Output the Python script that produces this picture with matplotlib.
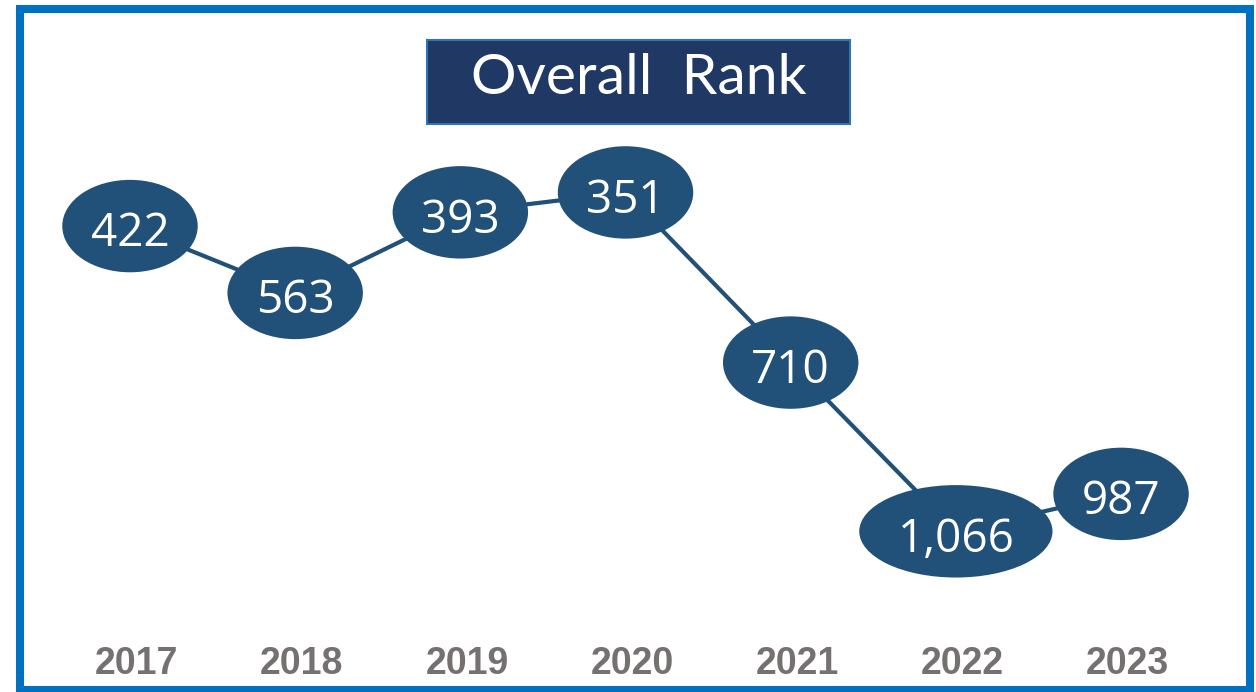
import matplotlib
matplotlib.use("Agg")
import matplotlib.pyplot as plt
from matplotlib.patches import Ellipse, Rectangle
from matplotlib import font_manager

years = ["2017", "2018", "2019", "2020", "2021", "2022", "2023"]
ranks = [422, 563, 393, 351, 710, 1066, 987]
labels = ["422", "563", "393", "351", "710", "1,066", "987"]

navy = "#215079"
gray = "#767171"

names = {f.name for f in font_manager.fontManager.ttflist}
year_font = "Liberation Sans Narrow" if "Liberation Sans Narrow" in names else "Liberation Sans"

W, H = 1256, 692
fig = plt.figure(figsize=(W / 100, H / 100), dpi=100)
ax = fig.add_axes([0, 0, 1, 1])
ax.set_xlim(-0.787, 6.817)
ax.set_ylim(1405, -55)
ax.axis("off")

x = list(range(len(years)))
ax.plot(x, ranks, color=navy, lw=3, zorder=1)

for i, (r, lab) in enumerate(zip(ranks, labels)):
    w = 0.82 if len(lab) < 4 else 1.17
    ax.add_patch(Ellipse((i, r), w, 195, facecolor=navy, edgecolor="none", zorder=2))
    ax.text(i, r + 6, lab, color="white", fontsize=33, family="Open Sans",
            ha="center", va="center_baseline", zorder=3)

# year labels along the bottom
for i, yr in enumerate(years):
    ax.text(i + 0.04, 1345, yr, color=gray, fontsize=27, fontweight="bold",
            family=year_font, ha="center", va="center")

# outer frame
fig.patches.append(Rectangle((19.5 / W, 1 - 690 / H), (1250 - 19.5) / W, (690 - 9) / H,
                             transform=fig.transFigure, fill=False,
                             edgecolor="#0070C0", lw=5.8))

# title box
fig.patches.append(Rectangle((427 / W, 1 - 124 / H), 423 / W, 84 / H,
                             transform=fig.transFigure, facecolor="#203864",
                             edgecolor="#2E75B6", lw=1.5))
fig.text(639 / W, 1 - 78 / H, "Overall  Rank", color="white", fontsize=41,
         family="Lato", ha="center", va="center")

fig.savefig("out.png", dpi=100)
